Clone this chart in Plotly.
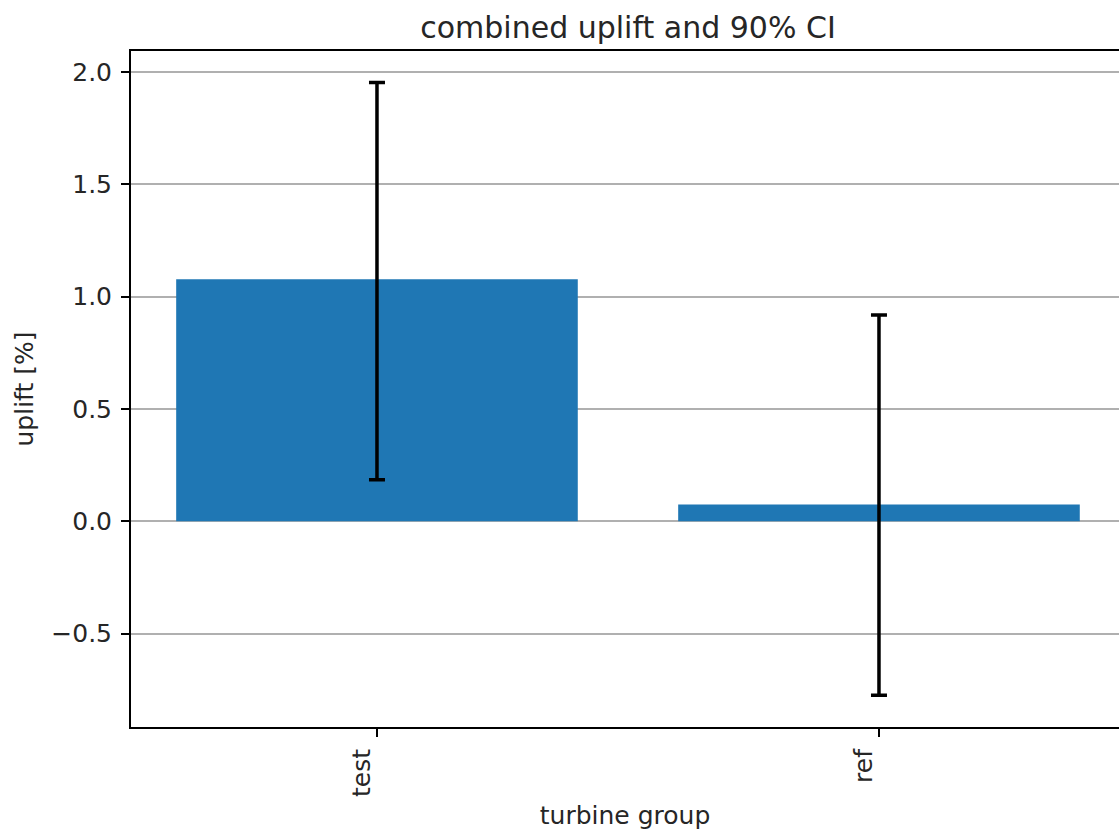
import plotly.graph_objects as go

groups = ["test", "ref"]
uplift = [1.077, 0.075]
ci_upper = [1.953, 0.918]
ci_lower = [0.185, -0.774]

err_plus = [u - v for u, v in zip(ci_upper, uplift)]
err_minus = [v - l for v, l in zip(uplift, ci_lower)]

font = "DejaVu Sans"

W, H = 1119, 830

fig = go.Figure()
fig.add_trace(go.Bar(
    x=list(range(len(groups))), y=uplift, width=0.8,
    marker=dict(color="#1f77b4", line=dict(width=0)),
    error_y=dict(type="data", array=err_plus, arrayminus=err_minus,
                 color="black", thickness=3.5, width=8),
))

fig.update_layout(
    width=W, height=H,
    margin=dict(l=131, r=0, t=51, b=101),
    plot_bgcolor="white", paper_bgcolor="white",
    font=dict(family=font, size=25, color="#262626"),
    showlegend=False,
    title=dict(text="combined uplift and 90% CI", x=628 / W, xref="container", xanchor="center",
               y=1 - 27 / H, yref="container", yanchor="middle",
               font=dict(family=font, size=30, color="#262626")),
)
fig.update_xaxes(
    tickmode="array", tickvals=list(range(len(groups))), ticktext=groups,
    range=[-0.49, -0.49 + 988 / 502],
    tickangle=-90, ticks="outside", ticklen=8, tickwidth=2, tickcolor="black",
    showline=True, linecolor="black", linewidth=2, mirror=True,
    showgrid=False, zeroline=False, ticklabelshift=-15, ticklabelstandoff=2,
    title=dict(text="turbine group", standoff=15, font=dict(family=font, size=25)),
)
fig.update_yaxes(
    range=[-0.915, 2.093],
    tickvals=[-0.5, 0.0, 0.5, 1.0, 1.5, 2.0],
    ticktext=["\u22120.5", "0.0", "0.5", "1.0", "1.5", "2.0"],
    ticks="outside", ticklen=8, tickwidth=2, tickcolor="black",
    showline=True, linecolor="black", linewidth=2, mirror=False,
    showgrid=True, gridcolor="#b0b0b0", gridwidth=2, zeroline=False,
    layer="above traces", ticklabelstandoff=4,
    title=dict(text="uplift [%]", standoff=11, font=dict(family=font, size=25)),
)

fig.write_html(
    "out.html",
    config={"displayModeBar": False},
    post_script="document.body.style.margin='0';document.body.style.overflow='hidden';",
)
